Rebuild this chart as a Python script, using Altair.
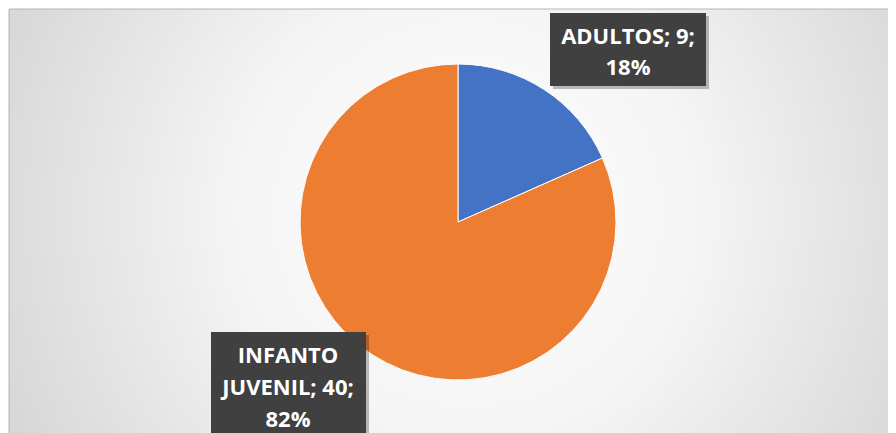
import altair as alt
import pandas as pd

categories = ["ADULTOS", "INFANTO JUVENIL"]
values = [9, 40]
percents = ["18%", "82%"]
colors = ["#4472C4", "#ED7D31"]

pie_df = pd.DataFrame({"cat": categories, "val": values, "ord": [0, 1]})

W, H = 880, 425
CX, CY, R = 450, 214, 158

bg = alt.Chart(pd.DataFrame({"a": [0]})).mark_rect(
    fill=alt.RadialGradient(
        gradient="radial",
        stops=[alt.GradientStop(offset=0, color="#ffffff"),
               alt.GradientStop(offset=0.35, color="#f4f4f4"),
               alt.GradientStop(offset=1, color="#c4c4c4")],
        x1=0.51, y1=0.48, r1=0, x2=0.51, y2=0.48, r2=0.75),
    stroke="#b4b4b4", strokeWidth=1,
).encode(x=alt.value(1), x2=alt.value(W + 20), y=alt.value(1), y2=alt.value(H + 20))

pie = alt.Chart(pie_df).mark_arc(outerRadius=R, stroke="#ffffff", strokeWidth=1).encode(
    theta=alt.Theta("val:Q", stack=True),
    order=alt.Order("ord:Q"),
    color=alt.Color("cat:N", scale=alt.Scale(domain=categories, range=colors), legend=None),
    x=alt.value(CX), y=alt.value(CY),
)

# label boxes (annotation positions)
boxes = pd.DataFrame({
    "x": [542, 203], "x2": [698, 358], "y": [5, 324], "y2": [78, 440],
})
shadow = alt.Chart(boxes).mark_rect(fill="#000000", opacity=0.25).encode(
    x=alt.X("sx:Q", scale=None), x2="sx2:Q", y=alt.Y("sy:Q", scale=None), y2="sy2:Q"
).transform_calculate(sx="datum.x+3", sx2="datum.x2+3", sy="datum.y+3", sy2="datum.y2+3")
box = alt.Chart(boxes).mark_rect(fill="#404040").encode(
    x=alt.X("x:Q", scale=None), x2="x2:Q", y=alt.Y("y:Q", scale=None), y2="y2:Q"
)

label_lines = [
    ["ADULTOS; %d;" % values[0], percents[0]],
    ["INFANTO", "JUVENIL; %d;" % values[1], percents[1]],
]
text_rows = []
pos = [(620, [29, 60]), (280, [348, 380, 412])]
for lines, (tx, ys) in zip(label_lines, pos):
    for ln, ty in zip(lines, ys):
        text_rows.append({"t": ln, "tx": tx, "ty": ty})
txt = alt.Chart(pd.DataFrame(text_rows)).mark_text(
    font="Open Sans", fontSize=22, fontWeight="bold", color="#ffffff", baseline="middle", align="center"
).encode(x=alt.X("tx:Q", scale=None), y=alt.Y("ty:Q", scale=None), text="t:N")

chart = alt.layer(bg, pie, shadow, box, txt).properties(
    width=W, height=H, padding=0, autosize=alt.AutoSizeParams(type="none")
).configure_view(strokeWidth=0)

chart.save("out.html", embed_options={"renderer": "svg", "actions": False})
